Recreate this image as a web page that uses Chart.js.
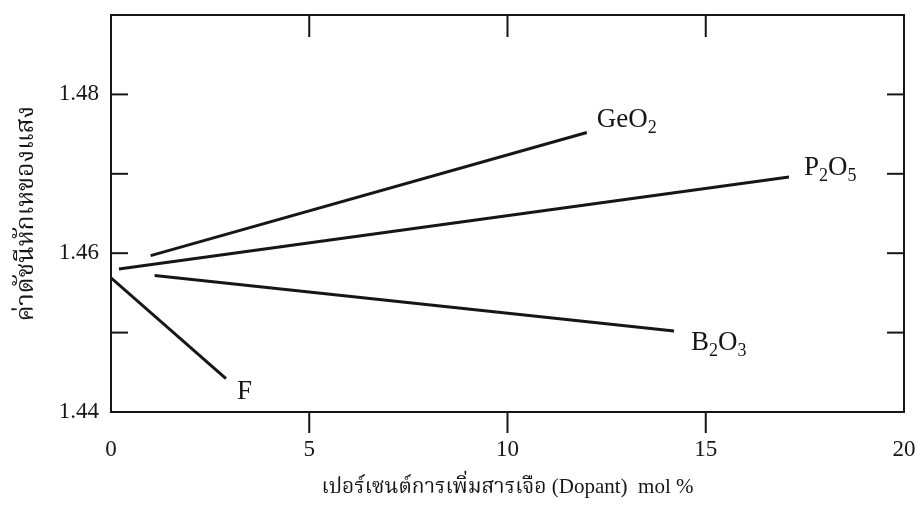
<!DOCTYPE html>
<html>
<head>
<meta charset="utf-8">
<script src="https://cdn.jsdelivr.net/npm/chart.js@4.4.1/dist/chart.umd.min.js"></script>
<style>
  html, body { margin:0; padding:0; background:#fff; }
  #wrap { width:917px; height:510px; position:relative; }
</style>
</head>
<body>
<div id="wrap"><canvas id="chart"></canvas></div>
<script>
/* data */
const SERIES_NAMES = ['GeO₂', 'P₂O₅', 'B₂O₃', 'F'];
const GEO2_X = [1.0, 12.0];
const GEO2_Y = [1.4597, 1.4752];
const P2O5_X = [0.2, 17.1];
const P2O5_Y = [1.4580, 1.4696];
const B2O3_X = [1.1, 14.2];
const B2O3_Y = [1.4572, 1.4502];
const F_X = [0.0, 2.9];
const F_Y = [1.4569, 1.4442];

const X_TICKS = [0, 5, 10, 15, 20];
const Y_TICKS = [1.44, 1.45, 1.46, 1.47, 1.48, 1.49];
const Y_LABELED = [1.44, 1.46, 1.48];

const X_TITLE = 'เปอร์เซนต์การเพิ่มสารเจือ (Dopant)  mol %';
const Y_TITLE = 'ค่าดัชนีหักเหของแสง';

const INK = '#161616';
const SERIF = "'Liberation Serif', 'Times New Roman', 'Noto Serif Thai', 'Noto Sans Thai', serif";

// label placement relative to the last point of each line (dx, baseline dy)
const LABEL_OFFSETS = [[10, -6], [15, -2], [17, 19], [11, 20]];

function pairs(xs, ys){ return xs.map((x, i) => ({x, y: ys[i]})); }

const SERIES = [pairs(GEO2_X, GEO2_Y), pairs(P2O5_X, P2O5_Y), pairs(B2O3_X, B2O3_Y), pairs(F_X, F_Y)];

const SUBS = '₀₁₂₃₄₅₆₇₈₉';

function drawChem(ctx, text, x, y){
  let cx = x;
  for (const ch of text) {
    const si = SUBS.indexOf(ch);
    if (si >= 0) {
      ctx.font = `18px ${SERIF}`;
      ctx.fillText(String(si), cx, y + 6);
      cx += ctx.measureText(String(si)).width;
    } else {
      ctx.font = `27px ${SERIF}`;
      ctx.fillText(ch, cx, y);
      cx += ctx.measureText(ch).width;
    }
  }
}

const frameTicks = {
  id: 'frameTicks',
  afterDatasetsDraw(chart){
    const {ctx, chartArea: a, scales: {x, y}} = chart;
    ctx.save();
    ctx.strokeStyle = INK;
    ctx.lineWidth = 2;
    ctx.strokeRect(a.left, a.top, a.right - a.left, a.bottom - a.top);
    const seg = (x1, y1, x2, y2) => { ctx.beginPath(); ctx.moveTo(x1, y1); ctx.lineTo(x2, y2); ctx.stroke(); };
    y.ticks.forEach(t => {
      if (t.value <= y.min || t.value >= y.max) return;
      const py = y.getPixelForValue(t.value);
      seg(a.left, py, a.left + 17, py);
      seg(a.right, py, a.right - 17, py);
    });
    x.ticks.forEach(t => {
      if (t.value <= x.min || t.value >= x.max) return;
      const px = x.getPixelForValue(t.value);
      seg(px, a.top, px, a.top + 22);
      seg(px, a.bottom, px, a.bottom + 21);
    });
    ctx.restore();
  }
};

const lineLabels = {
  id: 'lineLabels',
  afterDatasetsDraw(chart){
    const ctx = chart.ctx;
    ctx.save();
    ctx.fillStyle = INK;
    ctx.textBaseline = 'alphabetic';
    ctx.textAlign = 'left';
    chart.data.datasets.forEach((ds, i) => {
      const pts = chart.getDatasetMeta(i).data;
      const end = pts[pts.length - 1];
      const [dx, dy] = LABEL_OFFSETS[i];
      drawChem(ctx, ds.label, end.x + dx, end.y + dy);
    });
    ctx.restore();
  }
};

new Chart(document.getElementById('chart'), {
  type: 'line',
  data: {
    datasets: SERIES.map((data, i) => ({
      label: SERIES_NAMES[i],
      data,
      borderColor: INK,
      borderWidth: 3,
      pointRadius: 0,
      tension: 0,
      fill: false,
    }))
  },
  options: {
    responsive: true,
    maintainAspectRatio: false,
    animation: false,
    layout: { padding: { top: 15, right: 13, left: 0, bottom: 0 } },
    plugins: { legend: { display: false }, tooltip: { enabled: false } },
    scales: {
      x: {
        type: 'linear', min: 0, max: 20,
        afterBuildTicks: s => { s.ticks = X_TICKS.map(v => ({value: v})); },
        afterFit: s => { s.height = 98; s.paddingLeft = 0; s.paddingRight = 0; },
        grid: { display: false, drawTicks: false },
        border: { display: false },
        ticks: { color: INK, padding: 24, font: { family: SERIF, size: 23 } },
        title: { display: true, text: X_TITLE, color: INK, padding: { top: 0, bottom: 10 }, font: { family: SERIF, size: 21 } },
      },
      y: {
        type: 'linear', min: 1.44, max: 1.49,
        afterBuildTicks: s => { s.ticks = Y_TICKS.map(v => ({value: v})); },
        afterFit: s => { s.width = 111; s.paddingTop = 0; s.paddingBottom = 0; },
        grid: { display: false, drawTicks: false },
        border: { display: false },
        ticks: {
          color: INK, padding: 12, font: { family: SERIF, size: 23 },
          callback: v => Y_LABELED.includes(v) ? v.toFixed(2) : '',
        },
        title: { display: true, text: Y_TITLE, color: INK, padding: { top: 11, bottom: 0 }, font: { family: SERIF, size: 25 } },
      }
    }
  },
  plugins: [frameTicks, lineLabels]
});
</script>
</body>
</html>
